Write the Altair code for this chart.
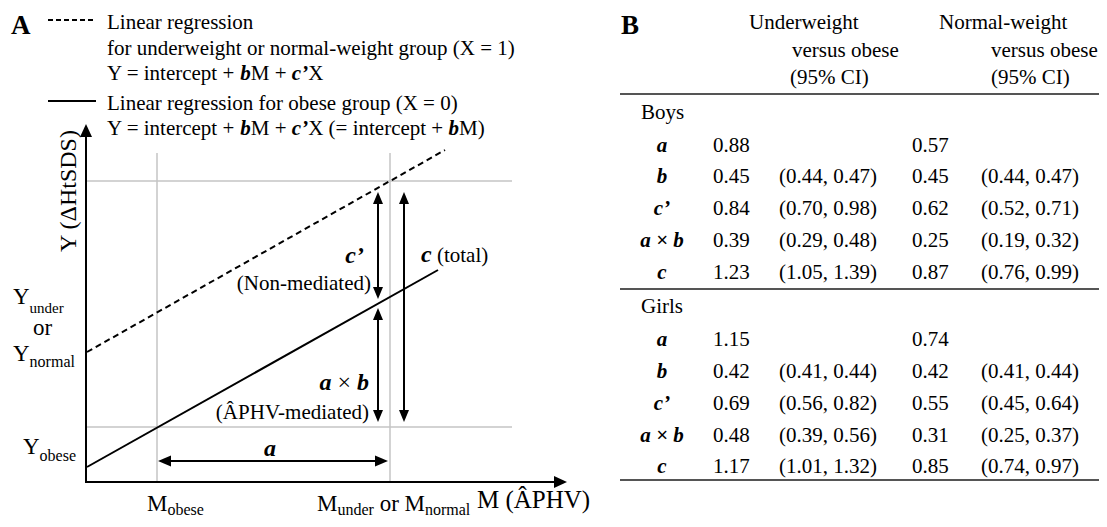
import altair as alt
import pandas as pd

# ---------------- data (panel B table) ----------------
effect_labels = ["a", "b", "c’", "a × b", "c"]
boys_under = [0.88, 0.45, 0.84, 0.39, 1.23]
boys_under_ci = ["", "(0.44, 0.47)", "(0.70, 0.98)", "(0.29, 0.48)", "(1.05, 1.39)"]
boys_normal = [0.57, 0.45, 0.62, 0.25, 0.87]
boys_normal_ci = ["", "(0.44, 0.47)", "(0.52, 0.71)", "(0.19, 0.32)", "(0.76, 0.99)"]
girls_under = [1.15, 0.42, 0.69, 0.48, 1.17]
girls_under_ci = ["", "(0.41, 0.44)", "(0.56, 0.82)", "(0.39, 0.56)", "(1.01, 1.32)"]
girls_normal = [0.74, 0.42, 0.55, 0.31, 0.85]
girls_normal_ci = ["", "(0.41, 0.44)", "(0.45, 0.64)", "(0.25, 0.37)", "(0.74, 0.97)"]
group_names = ["Boys", "Girls"]
header_under = ["Underweight", "versus obese", "(95% CI)"]
header_normal = ["Normal-weight", "versus obese", "(95% CI)"]

# ---------------- layout (pixel space of the figure) ----------------
W, H = 1091, 511
FONT = "Liberation Serif"

REG = {' ': 250, '(': 333, ')': 333, '+': 564, ',': 250, '-': 333, '.': 250, '=': 564,
       '%': 833, '×': 564, '’': 333, 'Â': 722, 'Δ': 612,
       'A': 722, 'B': 667, 'C': 667, 'D': 722, 'E': 611, 'F': 556, 'G': 722, 'H': 722,
       'I': 333, 'J': 389, 'K': 722, 'L': 611, 'M': 889, 'N': 722, 'O': 722, 'P': 556,
       'Q': 722, 'R': 667, 'S': 556, 'T': 611, 'U': 722, 'V': 722, 'W': 944, 'X': 722,
       'Y': 722, 'Z': 611,
       'a': 444, 'b': 500, 'c': 444, 'd': 500, 'e': 444, 'f': 333, 'g': 500, 'h': 500,
       'i': 278, 'j': 278, 'k': 500, 'l': 278, 'm': 778, 'n': 500, 'o': 500, 'p': 500,
       'q': 500, 'r': 333, 's': 389, 't': 278, 'u': 500, 'v': 500, 'w': 722, 'x': 500,
       'y': 500, 'z': 444}
BI = {'a': 500, 'b': 500, 'c': 444, '’': 333, ' ': 250, '×': 570}


def text_width(t, style, size):
    tab = BI if style == "bi" else REG
    return sum(tab.get(ch, REG.get(ch, 500)) for ch in t) * size / 1000.0


texts = []


def run(x, y, pieces, anchor="left"):
    total = sum(text_width(t, st, sz) for t, st, sz, dy in pieces)
    cur = x if anchor == "left" else (x - total if anchor == "right" else x - total / 2)
    for t, st, sz, dy in pieces:
        lead = len(t) - len(t.lstrip())
        texts.append(dict(x=cur + text_width(t[:lead], st, sz), y=y + dy,
                          text=t.strip(), size=sz, style=st))
        cur += text_width(t, st, sz)


N, BIS, B = "n", "bi", "b"
S = 21

# panel letters
run(11, 34, [("A", B, 27, 0)])
run(621, 34, [("B", B, 27, 0)])

# legend text
run(107, 29, [("Linear regression", N, S, 0)])
run(107, 55, [("for underweight or normal-weight group (X = 1)", N, S, 0)])
run(107, 80, [("Y = intercept + ", N, S, 0), ("b", BIS, S, 0), ("M + ", N, S, 0),
              ("c’", BIS, S, 0), ("X", N, S, 0)])
run(107, 110, [("Linear regression for obese group (X = 0)", N, S, 0)])
run(107, 135, [("Y = intercept + ", N, S, 0), ("b", BIS, S, 0), ("M + ", N, S, 0),
               ("c’", BIS, S, 0), ("X (= intercept + ", N, S, 0), ("b", BIS, S, 0),
               ("M)", N, S, 0)])

# axis labels of the schematic
run(13, 304, [("Y", N, 23, 0), ("under", N, 15, 9)])
run(33, 335, [("or", N, 23, 0)])
run(13, 361, [("Y", N, 23, 0), ("normal", N, 16, 6)])
run(23, 454, [("Y", N, 23, 0), ("obese", N, 16, 7)])
run(147, 511, [("M", N, 23, 0), ("obese", N, 16, 4)])
run(317, 511, [("M", N, 23, 0), ("under", N, 16, 4), (" or ", N, 23, 0),
               ("M", N, 23, 0), ("normal", N, 16, 4)])
run(477, 508, [("M (ÂPHV)", N, 25, 0)])

# effect labels in the schematic
run(364, 263, [("c’", BIS, 24, 0)], "right")
run(371, 290, [("(Non-mediated)", N, S, 0)], "right")
run(369, 390, [("a", BIS, 24, 0), (" × ", N, 24, 0), ("b", BIS, 24, 0)], "right")
run(371, 419, [("(ÂPHV-mediated)", N, S, 0)], "right")
run(421, 262, [("c", BIS, 24, 0), (" (total)", N, S, 0)])
run(270, 456, [("a", BIS, 24, 0)], "center")

# table headers
for (lx, ly), t in zip([(749, 29), (792, 57), (790, 84)], header_under):
    run(lx, ly, [(t, N, S, 0)])
for (lx, ly), t in zip([(939, 29), (991, 57), (991, 84)], header_normal):
    run(lx, ly, [(t, N, S, 0)])

# table body
group_label_y = [119, 313]
row_y = [[152, 183, 215, 247, 279], [346, 378, 410, 442, 473]]
cols = {"lab": 662, "v1": 713, "c1": 779, "v2": 912, "c2": 981}
tables = [(boys_under, boys_under_ci, boys_normal, boys_normal_ci),
          (girls_under, girls_under_ci, girls_normal, girls_normal_ci)]
for gi, (g, (u, uci, nm, nci)) in enumerate(zip(group_names, tables)):
    run(641, group_label_y[gi], [(g, N, S, 0)])
    for ri, lab in enumerate(effect_labels):
        yy = row_y[gi][ri]
        if "×" in lab:
            run(cols["lab"], yy, [("a", BIS, S, 0), (" × ", BIS, S, 0), ("b", BIS, S, 0)], "center")
        else:
            run(cols["lab"], yy, [(lab, BIS, S, 0)], "center")
        run(cols["v1"], yy, [(f"{u[ri]:.2f}", N, S, 0)])
        if uci[ri]:
            run(cols["c1"], yy, [(uci[ri], N, S, 0)])
        run(cols["v2"], yy, [(f"{nm[ri]:.2f}", N, S, 0)])
        if nci[ri]:
            run(cols["c2"], yy, [(nci[ri], N, S, 0)])

text_df = pd.DataFrame(texts)

# lines
gray_lines = pd.DataFrame([
    dict(x=157, y=153, x2=157, y2=482),
    dict(x=390, y=153, x2=390, y2=482),
    dict(x=87, y=181, x2=512, y2=181),
    dict(x=87, y=427, x2=512, y2=427),
])
black_lines = pd.DataFrame([
    dict(x=86, y=482, x2=86, y2=134),      # Y axis
    dict(x=85, y=482, x2=556, y2=482),     # M axis
    dict(x=87, y=467, x2=438, y2=270),     # obese regression
    dict(x=48, y=101, x2=96, y2=101),      # legend solid
    dict(x=378, y=196, x2=378, y2=295),    # c'
    dict(x=378, y=312, x2=378, y2=418),    # a x b
    dict(x=404, y=196, x2=404, y2=418),    # c
    dict(x=162, y=461, x2=384, y2=461),    # a
])
dashed_lines = pd.DataFrame([
    dict(x=87, y=352, x2=445, y2=150),
])
legend_dash = pd.DataFrame([dict(x=48, y=20, x2=95, y2=20)])
table_rules = pd.DataFrame([
    dict(x=620, y=94, x2=1107, y2=94),
    dict(x=620, y=289, x2=1107, y2=289),
    dict(x=620, y=480, x2=1107, y2=480),
])

UP_BIG = "M0,0L-6,13L6,13Z"
RIGHT_BIG = "M0,0L-13,-6L-13,6Z"
UP = "M0,0L-5,12L5,12Z"
DOWN = "M0,0L-5,-12L5,-12Z"
LEFT_A = "M0,0L13,-5.5L13,5.5Z"
RIGHT_A = "M0,0L-13,-5.5L-13,5.5Z"
heads = pd.DataFrame([
    dict(x=86, y=124, path=UP_BIG),
    dict(x=567, y=482, path=RIGHT_BIG),
    dict(x=378, y=192, path=UP), dict(x=378, y=299, path=DOWN),
    dict(x=378, y=308, path=UP), dict(x=378, y=422, path=DOWN),
    dict(x=404, y=192, path=UP), dict(x=404, y=422, path=DOWN),
    dict(x=158, y=461, path=LEFT_A), dict(x=388, y=461, path=RIGHT_A),
])


def X():
    return alt.X("x:Q", scale=alt.Scale(domain=[8, 8 + W], nice=False, zero=False), axis=None)


def Y():
    return alt.Y("y:Q", scale=alt.Scale(domain=[8, 8 + H], nice=False, zero=False, reverse=True), axis=None)


def rules(df, **kw):
    return alt.Chart(df).mark_rule(**kw).encode(x=X(), y=Y(), x2="x2:Q", y2="y2:Q")


layers = [
    rules(gray_lines, color="#c4c4c4", strokeWidth=1.5),
    rules(table_rules, color="#555555", strokeWidth=2),
    rules(black_lines, color="black", strokeWidth=2),
    rules(dashed_lines, color="black", strokeWidth=2, strokeDash=[6, 4]),
    rules(legend_dash, color="black", strokeWidth=2, strokeDash=[5, 3]),
    alt.Chart(heads).mark_point(filled=True, size=4, color="black", opacity=1, strokeWidth=0)
    .encode(x=X(), y=Y(), shape=alt.Shape("path:N", scale=None)),
]

style_props = {"n": dict(fontWeight="normal", fontStyle="normal"),
               "bi": dict(fontWeight="bold", fontStyle="italic"),
               "b": dict(fontWeight="bold", fontStyle="normal")}
for st, props in style_props.items():
    sub = text_df[text_df["style"] == st]
    if len(sub):
        layers.append(
            alt.Chart(sub).mark_text(align="left", baseline="alphabetic", font=FONT,
                                     color="black", **props)
            .encode(x=X(), y=Y(), text="text:N", size=alt.Size("size:Q", scale=None))
        )

ytitle = pd.DataFrame([dict(x=76, y=191, text="Y (ΔHtSDS)")])
layers.append(
    alt.Chart(ytitle).mark_text(align="center", baseline="alphabetic", font=FONT,
                                fontSize=24, angle=270, color="black")
    .encode(x=X(), y=Y(), text="text:N")
)

chart = alt.layer(*layers).properties(
    width=W, height=H, padding=0, background="white",
    autosize=alt.AutoSizeParams(type="none"),
).configure_view(stroke=None)

chart.save("out.html", embed_options={"renderer": "svg", "actions": False})
